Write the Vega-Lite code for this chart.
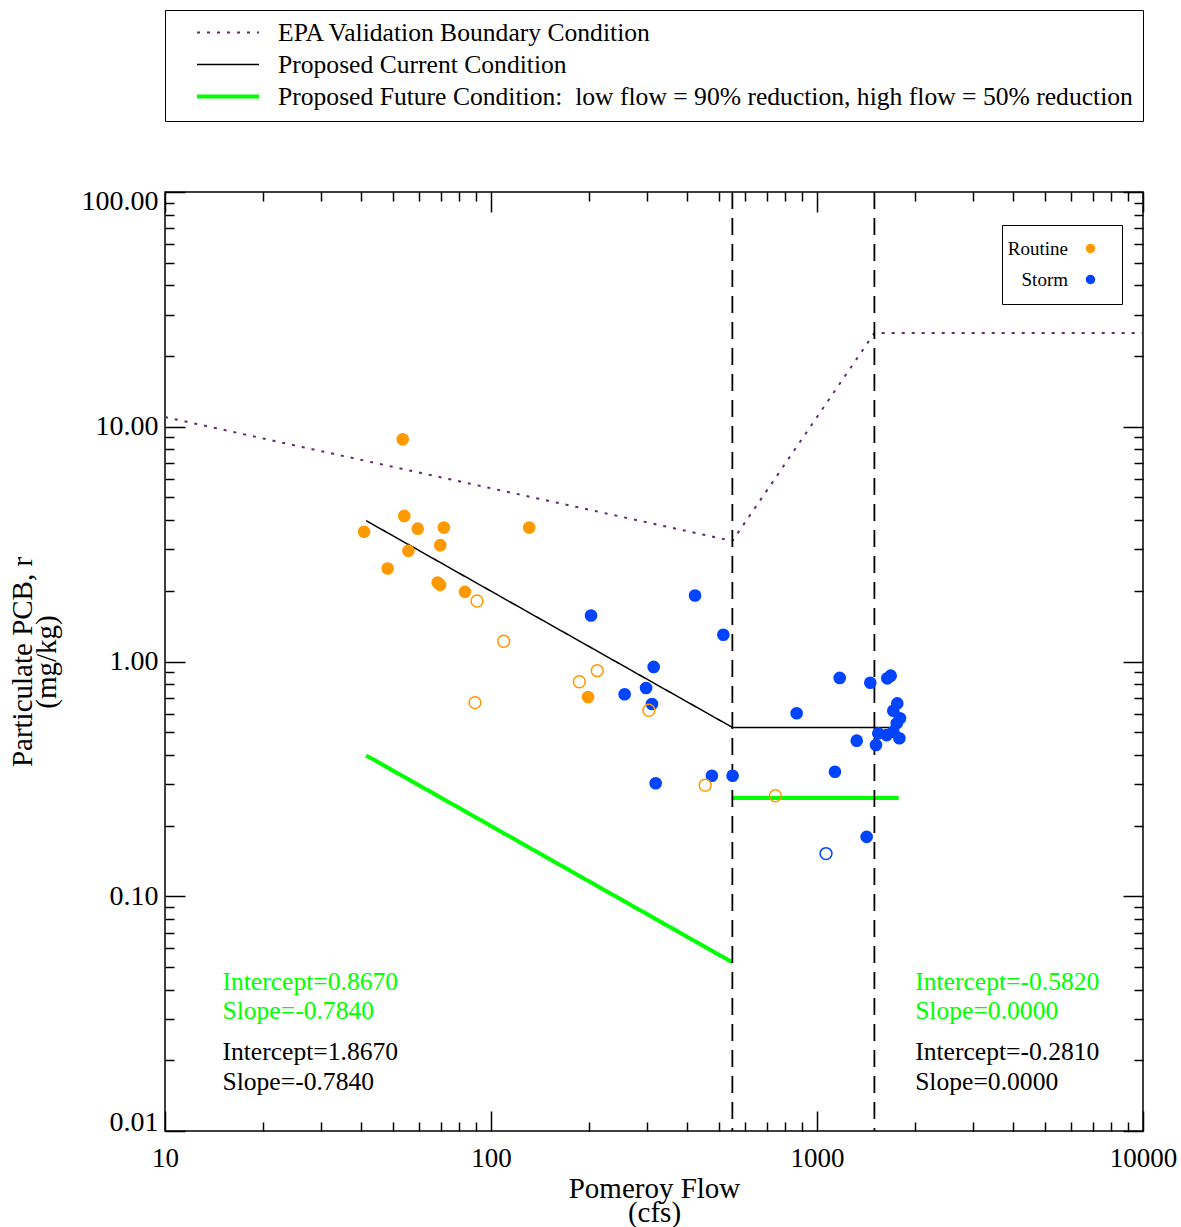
{
  "$schema": "https://vega.github.io/schema/vega-lite/v6.json",
  "width": 978,
  "height": 939,
  "autosize": "none",
  "padding": {"left": 165, "top": 192, "right": 38, "bottom": 96},
  "background": "white",
  "config": {
    "font": "Liberation Serif",
    "view": {"stroke": "black", "strokeWidth": 1.5},
    "axis": {"grid": false, "domain": false, "tickColor": "black", "tickWidth": 1.5, "labelColor": "black", "titleColor": "black", "labelFont": "Liberation Serif", "titleFont": "Liberation Serif", "titleFontWeight": "normal"}
  },
  "datasets": {
    "lines": [
      {"series": "EPA Validation Boundary Condition", "seg": "a", "ord": 1, "flow": 10, "pcb": 11.0},
      {"series": "EPA Validation Boundary Condition", "seg": "a", "ord": 2, "flow": 550, "pcb": 3.26},
      {"series": "EPA Validation Boundary Condition", "seg": "a", "ord": 3, "flow": 1500, "pcb": 25.1},
      {"series": "EPA Validation Boundary Condition", "seg": "a", "ord": 4, "flow": 10000, "pcb": 25.1},
      {"series": "Proposed Current Condition", "seg": "b", "ord": 1, "flow": 41.4, "pcb": 3.98},
      {"series": "Proposed Current Condition", "seg": "b", "ord": 2, "flow": 550, "pcb": 0.524},
      {"series": "Proposed Current Condition", "seg": "b", "ord": 3, "flow": 1780, "pcb": 0.524},
      {"series": "Proposed Future Condition:\u00a0 low flow = 90% reduction, high flow = 50% reduction", "seg": "c", "ord": 1, "flow": 41.4, "pcb": 0.398},
      {"series": "Proposed Future Condition:\u00a0 low flow = 90% reduction, high flow = 50% reduction", "seg": "c", "ord": 2, "flow": 550, "pcb": 0.0523},
      {"series": "Proposed Future Condition:\u00a0 low flow = 90% reduction, high flow = 50% reduction", "seg": "d", "ord": 1, "flow": 550, "pcb": 0.262},
      {"series": "Proposed Future Condition:\u00a0 low flow = 90% reduction, high flow = 50% reduction", "seg": "d", "ord": 2, "flow": 1780, "pcb": 0.262}
    ],
    "bounds": [{"flow": 550}, {"flow": 1500}],
    "samples": [
      {"type": "Routine", "hollow": false, "flow": 53.6, "pcb": 8.84},
      {"type": "Routine", "hollow": false, "flow": 54.2, "pcb": 4.17},
      {"type": "Routine", "hollow": false, "flow": 40.8, "pcb": 3.57},
      {"type": "Routine", "hollow": false, "flow": 59.6, "pcb": 3.68},
      {"type": "Routine", "hollow": false, "flow": 71.7, "pcb": 3.72},
      {"type": "Routine", "hollow": false, "flow": 131, "pcb": 3.72},
      {"type": "Routine", "hollow": false, "flow": 69.9, "pcb": 3.13},
      {"type": "Routine", "hollow": false, "flow": 55.8, "pcb": 2.96},
      {"type": "Routine", "hollow": false, "flow": 48.2, "pcb": 2.49},
      {"type": "Routine", "hollow": false, "flow": 68.6, "pcb": 2.17},
      {"type": "Routine", "hollow": false, "flow": 69.8, "pcb": 2.12},
      {"type": "Routine", "hollow": false, "flow": 83.2, "pcb": 1.98},
      {"type": "Routine", "hollow": false, "flow": 198.5, "pcb": 0.706},
      {"type": "Routine", "hollow": true, "flow": 90.6, "pcb": 1.81},
      {"type": "Routine", "hollow": true, "flow": 109.4, "pcb": 1.22},
      {"type": "Routine", "hollow": true, "flow": 89.3, "pcb": 0.668},
      {"type": "Routine", "hollow": true, "flow": 211.8, "pcb": 0.914},
      {"type": "Routine", "hollow": true, "flow": 186.6, "pcb": 0.82},
      {"type": "Routine", "hollow": true, "flow": 305, "pcb": 0.62},
      {"type": "Routine", "hollow": true, "flow": 454, "pcb": 0.297},
      {"type": "Routine", "hollow": true, "flow": 745, "pcb": 0.268},
      {"type": "Storm", "hollow": false, "flow": 202.7, "pcb": 1.57},
      {"type": "Storm", "hollow": false, "flow": 422.5, "pcb": 1.91},
      {"type": "Storm", "hollow": false, "flow": 516, "pcb": 1.3},
      {"type": "Storm", "hollow": false, "flow": 315.5, "pcb": 0.948},
      {"type": "Storm", "hollow": false, "flow": 257, "pcb": 0.725},
      {"type": "Storm", "hollow": false, "flow": 299, "pcb": 0.771},
      {"type": "Storm", "hollow": false, "flow": 311.7, "pcb": 0.659},
      {"type": "Storm", "hollow": false, "flow": 320, "pcb": 0.303},
      {"type": "Storm", "hollow": false, "flow": 476, "pcb": 0.326},
      {"type": "Storm", "hollow": false, "flow": 551, "pcb": 0.326},
      {"type": "Storm", "hollow": false, "flow": 1174, "pcb": 0.851},
      {"type": "Storm", "hollow": false, "flow": 1457, "pcb": 0.812},
      {"type": "Storm", "hollow": false, "flow": 1643, "pcb": 0.848},
      {"type": "Storm", "hollow": false, "flow": 1683, "pcb": 0.87},
      {"type": "Storm", "hollow": false, "flow": 866, "pcb": 0.602},
      {"type": "Storm", "hollow": false, "flow": 1763, "pcb": 0.663},
      {"type": "Storm", "hollow": false, "flow": 1714, "pcb": 0.617},
      {"type": "Storm", "hollow": false, "flow": 1797, "pcb": 0.573},
      {"type": "Storm", "hollow": false, "flow": 1756, "pcb": 0.545},
      {"type": "Storm", "hollow": false, "flow": 1714, "pcb": 0.502},
      {"type": "Storm", "hollow": false, "flow": 1542, "pcb": 0.494},
      {"type": "Storm", "hollow": false, "flow": 1636, "pcb": 0.486},
      {"type": "Storm", "hollow": false, "flow": 1789, "pcb": 0.471},
      {"type": "Storm", "hollow": false, "flow": 1324, "pcb": 0.46},
      {"type": "Storm", "hollow": false, "flow": 1517, "pcb": 0.441},
      {"type": "Storm", "hollow": false, "flow": 1135, "pcb": 0.339},
      {"type": "Storm", "hollow": false, "flow": 1420, "pcb": 0.179},
      {"type": "Storm", "hollow": true, "flow": 1066, "pcb": 0.152}
    ],
    "notes": [
      {"grp": "future", "label": "Intercept=0.8670", "flow": 15, "pcb": 0.04},
      {"grp": "future", "label": "Slope=-0.7840", "flow": 15, "pcb": 0.03},
      {"grp": "current", "label": "Intercept=1.8670", "flow": 15, "pcb": 0.02},
      {"grp": "current", "label": "Slope=-0.7840", "flow": 15, "pcb": 0.015},
      {"grp": "future", "label": "Intercept=-0.5820", "flow": 2000, "pcb": 0.04},
      {"grp": "future", "label": "Slope=0.0000", "flow": 2000, "pcb": 0.03},
      {"grp": "current", "label": "Intercept=-0.2810", "flow": 2000, "pcb": 0.02},
      {"grp": "current", "label": "Slope=0.0000", "flow": 2000, "pcb": 0.015}
    ]
  },
  "resolve": {"axis": {"x": "independent", "y": "independent"}},
  "layer": [
    {
      "data": {"name": "lines"},
      "mark": {"type": "line", "clip": true},
      "encoding": {
        "x": {"field": "flow", "type": "quantitative", "scale": {"type": "log", "domain": [10, 10000], "nice": false},
          "axis": {"orient": "bottom", "values": [10, 100, 1000, 10000], "format": "d", "ticks": false, "labelFlush": false, "labelFontSize": 27, "labelPadding": 14, "labelBaseline": "top", "title": ["Pomeroy Flow", "(cfs)"], "titleFontSize": 29, "titleLineHeight": 24, "titlePadding": 3}},
        "y": {"field": "pcb", "type": "quantitative", "scale": {"type": "log", "domain": [0.01, 100], "nice": false},
          "axis": {"orient": "left", "values": [0.01, 0.1, 1, 10, 100], "format": ".2f", "ticks": false, "labelFlush": true, "labelFlushOffset": 5, "labelFontSize": 28, "labelPadding": 7, "title": ["Particulate PCB, r", "(mg/kg)"], "titleFontSize": 29, "titleLineHeight": 24, "titlePadding": 20}},
        "color": {"field": "series", "type": "nominal", "title": null,
          "scale": {"domain": ["EPA Validation Boundary Condition", "Proposed Current Condition", "Proposed Future Condition:\u00a0 low flow = 90% reduction, high flow = 50% reduction"], "range": ["#5e2a72", "#000000", "#00ff00"]},
          "legend": {"orient": "none", "legendX": 0, "legendY": -182, "padding": 10, "strokeColor": "black", "symbolType": "stroke", "symbolSize": 3844, "symbolOffset": 20, "labelOffset": 17, "labelFontSize": 25.6, "labelFont": "Liberation Serif", "labelColor": "black", "labelLimit": 2000, "clipHeight": 25, "rowPadding": 5}},
        "strokeDash": {"field": "series", "type": "nominal", "title": null,
          "scale": {"domain": ["EPA Validation Boundary Condition", "Proposed Current Condition", "Proposed Future Condition:\u00a0 low flow = 90% reduction, high flow = 50% reduction"], "range": [[3, 7], [1, 0], [1, 0]]}},
        "strokeWidth": {"field": "series", "type": "nominal", "title": null,
          "scale": {"type": "ordinal", "domain": ["EPA Validation Boundary Condition", "Proposed Current Condition", "Proposed Future Condition:\u00a0 low flow = 90% reduction, high flow = 50% reduction"], "range": [2, 1.5, 4]}},
        "detail": {"field": "seg", "type": "nominal"},
        "order": {"field": "ord", "type": "quantitative"}
      }
    },
    {
      "data": {"name": "bounds"},
      "mark": {"type": "rule", "color": "black", "strokeWidth": 1.8, "strokeDash": [17, 9]},
      "encoding": {
        "x": {"field": "flow", "type": "quantitative", "scale": {"type": "log", "domain": [10, 10000], "nice": false},
          "axis": {"orient": "top", "values": [10, 100, 1000, 10000], "labels": false, "tickSize": -20, "title": null}}
      }
    },
    {
      "data": {"name": "samples"},
      "transform": [{"filter": "!datum.hollow"}],
      "mark": {"type": "circle", "size": 160, "opacity": 1},
      "encoding": {
        "x": {"field": "flow", "type": "quantitative", "scale": {"type": "log", "domain": [10, 10000], "nice": false},
          "axis": {"orient": "bottom", "values": [10, 100, 1000, 10000], "labels": false, "tickSize": -20, "title": null}},
        "y": {"field": "pcb", "type": "quantitative", "scale": {"type": "log", "domain": [0.01, 100], "nice": false},
          "axis": {"orient": "left", "values": [0.01, 0.1, 1, 10, 100], "labels": false, "tickSize": -20, "title": null}},
        "fill": {"field": "type", "type": "nominal", "title": "\u00a0",
          "scale": {"domain": ["Routine", "Storm"], "range": ["#ff9900", "#0044ff"]},
          "legend": {"orient": "none", "legendX": 837, "legendY": 33, "padding": 14, "strokeColor": "black", "symbolType": "circle", "symbolSize": 64, "symbolOffset": 65, "labelAlign": "right", "labelOffset": -32, "labelFontSize": 19, "labelFont": "Liberation Serif", "labelColor": "black", "rowPadding": 11, "titleOrient": "right", "titleFontSize": 4, "titlePadding": 10}}
      }
    },
    {
      "data": {"name": "samples"},
      "transform": [{"filter": "datum.hollow"}],
      "mark": {"type": "point", "shape": "circle", "filled": false, "size": 140, "strokeWidth": 1.5, "opacity": 1},
      "encoding": {
        "x": {"field": "flow", "type": "quantitative", "scale": {"type": "log", "domain": [10, 10000], "nice": false},
          "axis": {"orient": "bottom", "values": [20, 30, 40, 50, 60, 70, 80, 90, 200, 300, 400, 500, 600, 700, 800, 900, 2000, 3000, 4000, 5000, 6000, 7000, 8000, 9000], "labels": false, "tickSize": -9, "title": null}},
        "y": {"field": "pcb", "type": "quantitative", "scale": {"type": "log", "domain": [0.01, 100], "nice": false},
          "axis": {"orient": "left", "values": [0.02, 0.03, 0.04, 0.05, 0.06, 0.07, 0.08, 0.09, 0.2, 0.3, 0.4, 0.5, 0.6, 0.7, 0.8, 0.9, 2, 3, 4, 5, 6, 7, 8, 9, 20, 30, 40, 50, 60, 70, 80, 90], "labels": false, "tickSize": -9, "title": null}},
        "stroke": {"field": "type", "type": "nominal", "legend": null,
          "scale": {"domain": ["Routine", "Storm"], "range": ["#ff9900", "#0044ff"]}}
      }
    },
    {
      "data": {"name": "notes"},
      "transform": [{"filter": "datum.grp == 'future'"}],
      "mark": {"type": "text", "align": "left", "baseline": "alphabetic", "fontSize": 25.6, "font": "Liberation Serif", "color": "#00ff00"},
      "encoding": {
        "x": {"field": "flow", "type": "quantitative", "scale": {"type": "log", "domain": [10, 10000], "nice": false},
          "axis": {"orient": "top", "values": [20, 30, 40, 50, 60, 70, 80, 90, 200, 300, 400, 500, 600, 700, 800, 900, 2000, 3000, 4000, 5000, 6000, 7000, 8000, 9000], "labels": false, "tickSize": -9, "title": null}},
        "y": {"field": "pcb", "type": "quantitative", "scale": {"type": "log", "domain": [0.01, 100], "nice": false},
          "axis": {"orient": "right", "values": [0.02, 0.03, 0.04, 0.05, 0.06, 0.07, 0.08, 0.09, 0.2, 0.3, 0.4, 0.5, 0.6, 0.7, 0.8, 0.9, 2, 3, 4, 5, 6, 7, 8, 9, 20, 30, 40, 50, 60, 70, 80, 90], "labels": false, "tickSize": -9, "title": null}},
        "text": {"field": "label", "type": "nominal"}
      }
    },
    {
      "data": {"name": "notes"},
      "transform": [{"filter": "datum.grp == 'current'"}],
      "mark": {"type": "text", "align": "left", "baseline": "alphabetic", "fontSize": 25.6, "font": "Liberation Serif", "color": "black"},
      "encoding": {
        "x": {"field": "flow", "type": "quantitative", "scale": {"type": "log", "domain": [10, 10000], "nice": false}, "axis": null},
        "y": {"field": "pcb", "type": "quantitative", "scale": {"type": "log", "domain": [0.01, 100], "nice": false},
          "axis": {"orient": "right", "values": [0.01, 0.1, 1, 10, 100], "labels": false, "tickSize": -20, "title": null}},
        "text": {"field": "label", "type": "nominal"}
      }
    }
  ]
}
